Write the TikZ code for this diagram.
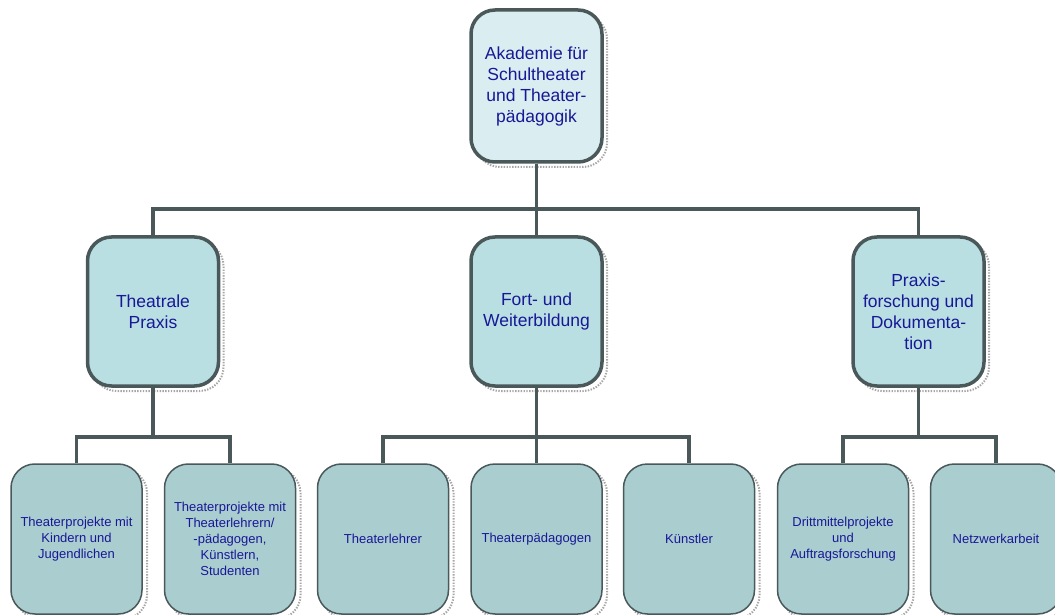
\documentclass[tikz,border=0pt]{standalone}
\usepackage{fontspec}
\setmainfont{Liberation Sans}
\definecolor{rahmen}{RGB}{74,88,89}
\definecolor{schrift}{RGB}{24,24,150}
\definecolor{hell}{RGB}{218,237,240}
\definecolor{mittel}{RGB}{185,223,227}
\definecolor{dunkel}{RGB}{170,205,208}
\tikzset{
	schatten/.style={preaction={draw=gray!70, dash pattern=on 1.4pt off 1.4pt, line width=2pt, transform canvas={shift={(5pt,-5pt)}}}},
	kasten/.style={schatten, draw=rahmen, line width=3.5pt, rounded corners=24pt, minimum width=131pt, minimum height=149pt, inner sep=2pt, align=center, text=schrift, font=\fontsize{17.5}{21}\selectfont},
	klein/.style={kasten, line width=1.5pt, fill=dunkel, minimum height=150pt, font=\fontsize{13}{16}\selectfont},
	linie/.style={draw=rahmen, line width=3.2pt}
}
\begin{document}
\begin{tikzpicture}[x=1pt,y=1pt]
		\useasboundingbox (0,0) rectangle (1055,614);
		
		\node[kasten, fill=hell, minimum height=152pt] (akad) at (536.5,528) {Akademie für\\Schultheater\\und Theater-\\pädagogik};
		
		\node[kasten, fill=mittel] (prax) at (153,302.5) {Theatrale\\Praxis};
		\node[kasten, fill=mittel] (fort) at (536.5,302.5) {Fort- und\\Weiterbildung};
		\node[kasten, fill=mittel] (doku) at (918.5,302.5) {Praxis-\\forschung und\\Dokumenta-\\tion};
		
		\node[klein] (kind) at (76.5,75) {Theaterprojekte mit\\Kindern und\\Jugendlichen};
		\node[klein] (stud) at (230,75) {Theaterprojekte mit\\Theaterlehrern/\\-pädagogen,\\Künstlern,\\Studenten};
		\node[klein] (lehr) at (383,75) {Theaterlehrer};
		\node[klein] (paed) at (536.5,75) {Theaterpädagogen};
		\node[klein] (kuen) at (689,75) {Künstler};
		\node[klein] (dritt) at (843,75) {Drittmittelprojekte\\und\\Auftragsforschung};
		\node[klein] (netz) at (996,75) {Netzwerkarbeit};
		
		\coordinate (bus1) at (0,405);
		\coordinate (bus2) at (0,177);
		
		\draw[linie] (akad.south) -- (fort.north);
		\draw[linie] (prax.north) |- (akad.south |- bus1) -| (doku.north);
		
		\draw[linie] (prax.south) -- (prax.south |- bus2);
		\draw[linie] (kind.north) |- (stud.north |- bus2) -- (stud.north);
		\draw[linie] (fort.south) -- (paed.north);
		\draw[linie] (lehr.north) |- (kuen.north |- bus2) -- (kuen.north);
		\draw[linie] (doku.south) -- (doku.south |- bus2);
		\draw[linie] (dritt.north) |- (netz.north |- bus2) -- (netz.north);
\end{tikzpicture}
\end{document}
